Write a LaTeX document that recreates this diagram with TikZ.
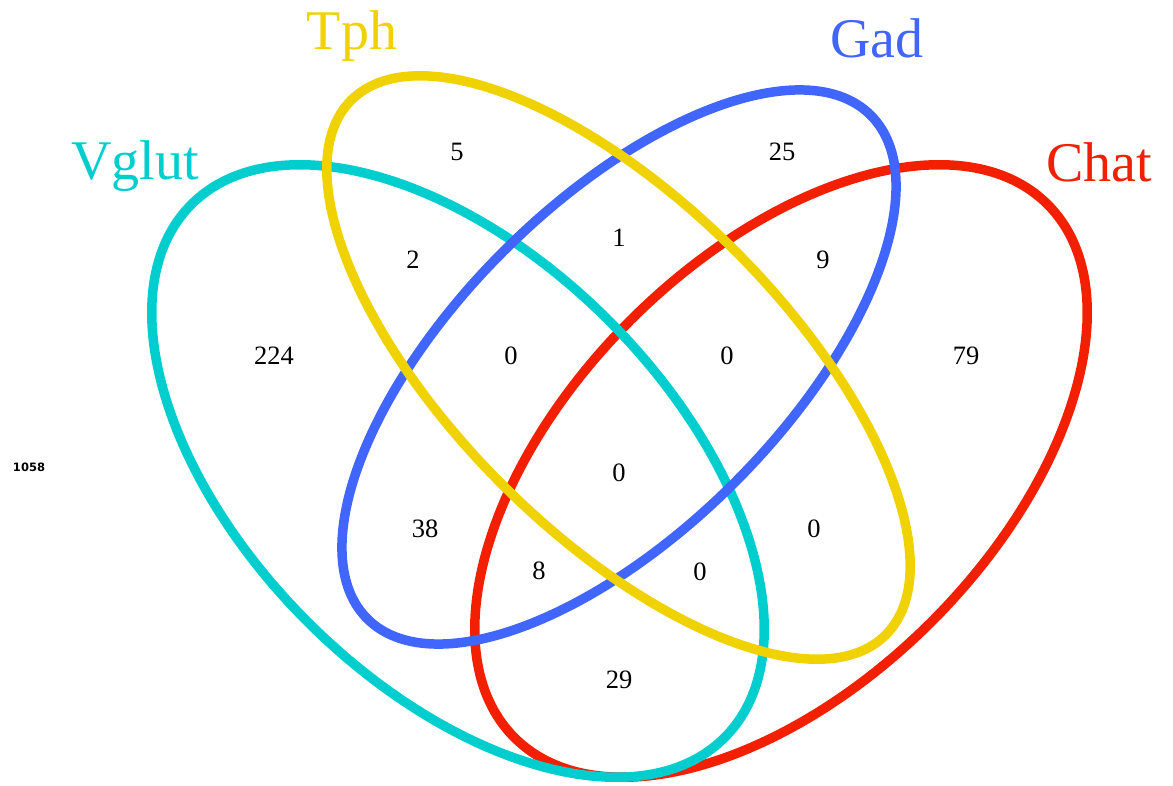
\documentclass[tikz,border=0pt]{standalone}
\usepackage{fontspec}
\setmainfont{Liberation Serif}
\newfontfamily\smallsans{DejaVu Sans}
\definecolor{cvglut}{RGB}{0,206,206}
\definecolor{ctph}{RGB}{240,210,0}
\definecolor{cgad}{RGB}{64,102,255}
\definecolor{cchat}{RGB}{242,32,0}
\tikzset{
  ring/.style={line width=9.5pt},
  num/.style={font=\fontsize{26.5}{26.5}\selectfont, text=black, inner sep=0pt, anchor=center},
  settitle/.style={font=\fontsize{56}{56}\selectfont, inner sep=0pt, anchor=base},
}
\begin{document}
\begin{tikzpicture}[x=1pt,y=1pt]
\useasboundingbox (0,0) rectangle (1173,785);
% ellipses
\draw[ring, cchat] (781,314) [rotate around={45:(781,314)}] ellipse [x radius=377, y radius=213];
\draw[ring, cvglut] (458,314) [rotate around={-45:(458,314)}] ellipse [x radius=377, y radius=213];
\draw[ring, cgad] (619,418) [rotate around={45:(619,418)}] ellipse [x radius=356, y radius=163.5];
\draw[ring, ctph] (618.5,417.5) [rotate around={-45:(618.5,417.5)}] ellipse [x radius=378, y radius=165];
% titles
\node[settitle, text=cvglut] (tvglut) at (135,605) {Vglut};
\node[settitle, text=ctph] (ttph) at (352,735) {Tph};
\node[settitle, text=cgad] (tgad) at (877,727) {Gad};
\node[settitle, text=cchat] (tchat) at (1099,603) {Chat};
% counts
\node[num] (n5) at (457,633) {5};
\node[num] (n25) at (782,633) {25};
\node[num] (n2) at (413,525) {2};
\node[num] (n1) at (619,547) {1};
\node[num] (n9) at (823,525) {9};
\node[num] (n224) at (274,429) {224};
\node[num] (n0a) at (511,429) {0};
\node[num] (n0b) at (727,429) {0};
\node[num] (n79) at (966,429) {79};
\node[num] (n0c) at (619,312) {0};
\node[num] (n38) at (425,256) {38};
\node[num] (n0d) at (814,256) {0};
\node[num] (n8) at (539,214) {8};
\node[num] (n0e) at (700,213) {0};
\node[num] (n29) at (619,105) {29};
\node[font=\smallsans\bfseries\fontsize{11.5}{11.5}\selectfont, inner sep=0pt] (nout) at (29,318) {1058};
\end{tikzpicture}
\end{document}
